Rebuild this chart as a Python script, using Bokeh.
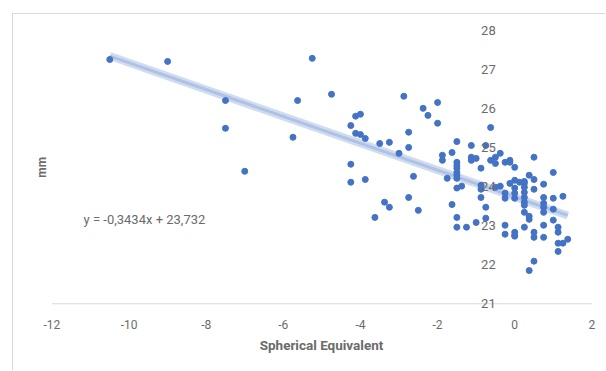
import math
from bokeh.plotting import figure
from bokeh.models import Range1d, LinearAxis, Label, FixedTicker
from bokeh.embed import file_html
from bokeh.resources import INLINE

# Spherical equivalent (D) and axial length (mm)
se = [-10.5, -9.0, -7.5, -7.5, -7.0, -5.25, -5.63, -5.75, -4.75,
      -2.875, -2.375, -2.0, -2.25, -2.0,
      -4.125, -4.0, -4.25, -4.125, -4.0, -3.875, -3.5, -3.25,
      -2.75, -2.75, -3.0, -1.875, -1.875, -4.25, -4.25, -3.875, -2.625, -1.75,
      -3.375, -3.25, -3.625, -2.75, -2.5,
      -0.625, -1.5, -1.125, -0.75, -1.625,
      -1.5, -1.5, -1.5, -1.5, -1.5, -1.5,
      -1.125, -1.125, -1.0, -0.875,
      -0.625, -0.5, -0.375, -0.5, -0.25, -0.125, -0.125, 0.0,
      -1.375, -1.5, -0.875, -0.875, -0.5, -0.375, -0.25, -0.25,
      -0.875, -1.625, -0.75, -1.5, -0.75, -1.0, -1.5, -1.25,
      -0.25, -0.25, 0.0,
      0.5, 1.0, 0.375, 0.5,
      -0.125, 0.0, 0.125, 0.25, 0.25,
      0.0, 0.0, 0.0,
      0.25, 0.25, 0.25, 0.25, 0.25,
      0.5, 0.75, 0.75, 0.75, 0.75, 0.75, 1.0, 1.25, 1.0,
      0.25, 0.375, 0.375,
      0.0, 0.0, 0.25, 0.5, 0.5, 0.75, 0.75, 1.0,
      1.125, 1.125, 1.375, 1.125, 1.25, 1.125, 0.5, 0.375]
axial = [27.25, 27.20, 26.20, 25.49, 24.39, 27.28, 26.20, 25.26, 26.36,
         26.31, 26.00, 26.15, 25.82, 25.62,
         25.80, 25.85, 25.56, 25.36, 25.33, 25.23, 25.10, 25.13,
         25.39, 25.00, 24.85, 24.80, 24.67, 24.57, 24.11, 24.18, 24.26, 24.21,
         23.60, 23.47, 23.21, 23.72, 23.39,
         25.51, 25.15, 25.05, 25.05, 24.87,
         24.62, 24.54, 24.47, 24.36, 24.29, 24.21,
         24.75, 24.67, 24.72, 24.47,
         24.67, 24.75, 24.85, 24.59, 24.62, 24.67, 24.62, 24.49,
         24.01, 23.96, 24.03, 23.93, 23.98, 24.01, 23.83, 23.70,
         23.72, 23.54, 23.47, 23.21, 23.19, 23.08, 22.96, 22.96,
         23.01, 22.78, 22.75,
         24.75, 24.36, 24.29, 24.18,
         24.08, 24.16, 24.11, 24.13, 24.08,
         23.96, 23.83, 23.70,
         23.98, 23.85, 23.72, 23.60, 23.52,
         23.93, 24.06, 23.72, 23.57, 23.47, 23.34, 23.70, 23.75, 23.42,
         23.34, 23.24, 23.16,
         22.83, 22.73, 22.96, 22.83, 22.70, 23.01, 22.70, 23.14,
         22.96, 22.83, 22.65, 22.55, 22.55, 22.34, 22.09, 21.85]

x_ticks = [-12, -10, -8, -6, -4, -2, 0, 2]
y_ticks = [21, 22, 23, 24, 25, 26, 27, 28]
slope = -0.3434
intercept = 23.732
eq_text = "y = -0,3434x + 23,732"
x_title = "Spherical Equivalent"
y_title = "mm"

FONT = "Roboto"
GREY = "#6b6b6b"
BLUE = "#4472C4"

p = figure(width=593, height=357, x_range=Range1d(-12.4, 2.38), y_range=Range1d(19.6, 28.35),
           output_backend="svg", toolbar_location=None, y_axis_location=None,
           min_border_left=23, min_border_right=0, min_border_top=2, min_border_bottom=13)
p.margin = (13, 0, 0, 12)
p.styles = {"border-left": "1px solid #d9d9d9", "border-top": "1px solid #d9d9d9"}
p.outline_line_color = None
p.background_fill_color = "#ffffff"
p.border_fill_color = "#ffffff"
p.xgrid.visible = False
p.ygrid.visible = False

# x axis drawn at y = 21
xa = p.xaxis[0]
xa.fixed_location = y_ticks[0]
xa.ticker = FixedTicker(ticks=x_ticks)
xa.major_label_overrides = {t: str(t) for t in x_ticks}
xa.axis_line_color = None
xa.major_tick_line_color = None
xa.minor_tick_line_color = None
xa.major_label_standoff = 10
xa.major_label_text_font = FONT
xa.major_label_text_font_size = "12px"
xa.major_label_text_color = GREY
xa.axis_label = x_title
xa.axis_label_text_font = FONT
xa.axis_label_text_font_size = "13.5px"
xa.axis_label_text_font_style = "bold"
xa.axis_label_text_color = GREY
xa.axis_label_standoff = 5

# axis line spanning the tick range
p.line([x_ticks[0], x_ticks[-1]], [y_ticks[0], y_ticks[0]], color="#d9d9d9", line_width=1)

# y tick labels at x = 0
ya0 = LinearAxis(fixed_location=0, ticker=FixedTicker(ticks=y_ticks))
ya0.axis_line_color = None
ya0.major_tick_line_color = None
ya0.minor_tick_line_color = None
ya0.major_label_standoff = 13
ya0.major_label_text_font = FONT
ya0.major_label_text_font_size = "13px"
ya0.major_label_text_color = GREY
p.add_layout(ya0, "left")

# y title
p.add_layout(Label(x=-12.27, y=24.49, text=y_title, angle=math.pi / 2, text_font=FONT,
                   text_font_size="12px", text_font_style="bold", text_color=GREY,
                   text_align="center", text_baseline="middle"))

# trendline
tx = [min(se), max(se)]
ty = [slope * v + intercept for v in tx]
p.line(tx, ty, line_width=8, color=BLUE, alpha=0.25)
p.line(tx, ty, line_width=3, color=BLUE, alpha=0.25)

p.scatter(se, axial, size=6, color=BLUE, line_color=BLUE)

p.add_layout(Label(x=-11.18, y=23.15, text=eq_text, text_font=FONT, text_font_size="13px",
                   text_color=GREY, text_baseline="middle", text_align="left"))

open("out.html", "w").write(file_html(p, INLINE))
